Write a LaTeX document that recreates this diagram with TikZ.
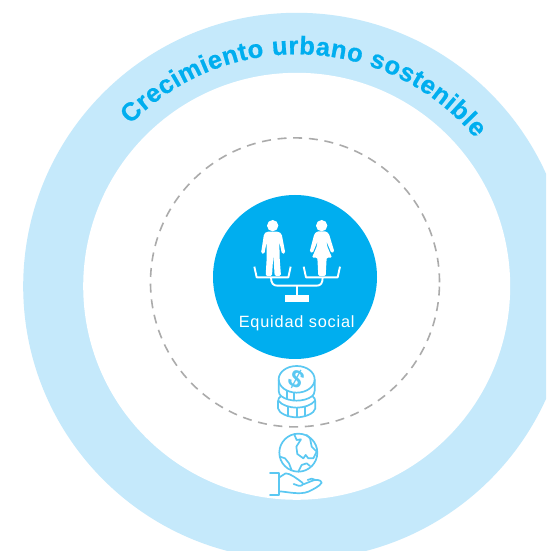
\documentclass[tikz,border=0pt]{standalone}
\usepackage{fontspec}
\setmainfont{Liberation Sans}
\newfontfamily\labelfont[LetterSpace=5]{Liberation Sans}
\newfontfamily\titlefont[BoldFeatures={FakeBold=0.7}]{Liberation Sans}
\usetikzlibrary{decorations.text}
\definecolor{ringblue}{HTML}{C5E9FB}
\definecolor{mainblue}{HTML}{00AEEF}
\definecolor{iconblue}{HTML}{5BC8F2}
\definecolor{dashgray}{HTML}{ABABAB}
\tikzset{
  whiteline/.style={draw=white,line width=1.9pt,line join=round,line cap=butt},
  iconline/.style={draw=iconblue,line width=1.7pt,line join=round,line cap=round},
  zoomone/.style={shift={(210,356)},x=0.33333pt,y=-0.33333pt},
  zoomtwo/.style={shift={(250,191)},x=0.33333pt,y=-0.33333pt},
  zoomfive/.style={shift={(265,121)},x=0.33333pt,y=-0.33333pt},
}
\begin{document}
\begin{tikzpicture}[x=1pt,y=1pt]
\useasboundingbox (0,0) rectangle (546,551);
\clip (0,0) rectangle (546,551);
\fill[white] (0,0) rectangle (546,551);
\coordinate (ringc) at (296.7,264.7);
\fill[ringblue] (ringc) circle (273.5);
\fill[white] (ringc) circle (213.5);
\draw[dashgray,line width=1.6pt,dash pattern=on 9pt off 6.7pt] (295,268.6) circle (144.5);
\fill[mainblue] (295,274) circle (82);
% curved title
\path[decorate,decoration={text along path,text align={fit to path},
  text={|\titlefont\fontsize{25.5}{26}\selectfont\bfseries\color{mainblue}|Crecimiento urbano sostenible}}]
  (ringc) ++(135.8:232) arc[start angle=135.8,end angle=39.6,radius=232];
% central label
\node[text=white,font=\labelfont\fontsize{16.3}{16.3}\selectfont,inner sep=0pt] (equidad) at (296.7,227.5) {Equidad social};
% people and scale
\begin{scope}[zoomone]
  \fill[white] (188,92) circle (17);
  \fill[white,rounded corners=1.5pt] (170,110) -- (206,110) -- (215,117) -- (226,175) -- (216,177) -- (208,140)
     -- (209,190) -- (213,243) -- (194,243) -- (190,180) -- (186,243) -- (167,243) -- (170,190) -- (170,140)
     -- (163,177) -- (153,175) -- (162,117) -- cycle;
  \fill[white] (335,92) circle (17);
  \fill[white,rounded corners=1.2pt] (322,109) -- (348,109) -- (357,117) -- (373,170) -- (364,174) -- (349,138)
     -- (352,155) -- (366,188) -- (350,188) -- (347,243) -- (325,243) -- (322,188) -- (306,188) -- (320,155)
     -- (323,138) -- (308,174) -- (299,170) -- (313,117) -- cycle;
  \draw[whiteline] (133,215) -- (140,247) -- (235,247) -- (242,215);
  \draw[whiteline] (281,215) -- (288,247) -- (383,247) -- (390,215);
  \draw[whiteline] (183,247) .. controls (183,265) and (190,272) .. (202,272) -- (320,272) .. controls (332,272) and (338,265) .. (338,247);
  \draw[whiteline] (261,272) -- (261,302);
  \fill[white] (225,300) rectangle (297,322);
\end{scope}
% coins
\begin{scope}[zoomtwo]
  \draw[iconline] (140,58) ellipse [x radius=54,y radius=40];
  \draw[iconline] (86,60) -- (86,92) .. controls (86,100) and (90,105) .. (93,108) .. controls (87,112) and (84,118) .. (84,125) -- (84,145)
     .. controls (86,160) and (115,172) .. (140,172) .. controls (165,172) and (194,160) .. (196,145) -- (196,125)
     .. controls (196,118) and (193,112) .. (187,108) .. controls (190,105) and (194,100) .. (194,92) -- (194,60);
  \draw[iconline] (93,108) .. controls (105,118) and (125,122) .. (140,122) .. controls (155,122) and (175,118) .. (187,108);
  \draw[iconline] (85,122) .. controls (95,136) and (120,143) .. (140,143) .. controls (160,143) and (185,136) .. (195,122);
  \draw[iconline] (112,94) -- (112,116);
  \draw[iconline] (133,98) -- (133,121);
  \draw[iconline] (115,141) -- (115,169);
  \draw[iconline] (140,144) -- (140,171);
  \draw[iconline] (166,141) -- (166,169);
  \node[text=iconblue,font=\fontsize{25}{25}\selectfont\bfseries,rotate=-28,inner sep=0pt] (dollar) at (140,58) {\$};
\end{scope}
% globe and hand
\begin{scope}[zoomfive]
  \draw[iconline] (100,68) circle (57);
  \draw[iconline] (88,14) -- (95,30) -- (108,28) -- (94,50) -- (97,72) -- (115,85) -- (122,75) -- (130,85) -- (145,85) -- (155,65) -- (140,50) -- (135,25) -- (125,15);
  \draw[iconline] (45,80) -- (60,85) -- (72,100) -- (80,121);
  \draw[iconline] (100,125) -- (110,105) -- (125,100) -- (135,108);
  \draw[iconline] (15,130) -- (43,130) -- (43,194) -- (15,194);
  \draw[iconline] (43,142) -- (62,130) .. controls (75,130) and (95,145) .. (112,158) .. controls (118,163) and (108,170) .. (100,167) -- (86,162);
  \draw[iconline] (43,184) .. controls (70,186) and (105,195) .. (130,185) .. controls (145,178) and (165,168) .. (170,158) .. controls (168,148) and (150,148) .. (140,153) -- (115,163);
  \draw[iconline] (128,150) -- (140,146) -- (152,150);
\end{scope}
\end{tikzpicture}
\end{document}
